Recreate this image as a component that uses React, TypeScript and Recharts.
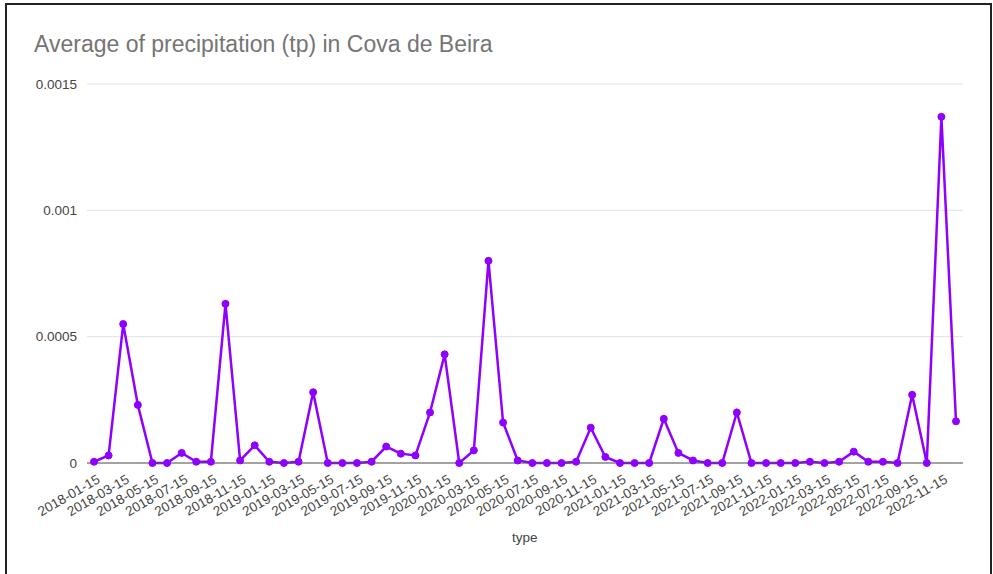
import { LineChart, Line, XAxis, YAxis, CartesianGrid } from "recharts";

const dates = [
  "2018-01-15", "2018-02-15", "2018-03-15", "2018-04-15", "2018-05-15", "2018-06-15",
  "2018-07-15", "2018-08-15", "2018-09-15", "2018-10-15", "2018-11-15", "2018-12-15",
  "2019-01-15", "2019-02-15", "2019-03-15", "2019-04-15", "2019-05-15", "2019-06-15",
  "2019-07-15", "2019-08-15", "2019-09-15", "2019-10-15", "2019-11-15", "2019-12-15",
  "2020-01-15", "2020-02-15", "2020-03-15", "2020-04-15", "2020-05-15", "2020-06-15",
  "2020-07-15", "2020-08-15", "2020-09-15", "2020-10-15", "2020-11-15", "2020-12-15",
  "2021-01-15", "2021-02-15", "2021-03-15", "2021-04-15", "2021-05-15", "2021-06-15",
  "2021-07-15", "2021-08-15", "2021-09-15", "2021-10-15", "2021-11-15", "2021-12-15",
  "2022-01-15", "2022-02-15", "2022-03-15", "2022-04-15", "2022-05-15", "2022-06-15",
  "2022-07-15", "2022-08-15", "2022-09-15", "2022-10-15", "2022-11-15", "2022-12-15",
];

const precipitation = [
  0.000005, 0.00003, 0.00055, 0.00023, 0, 0,
  0.00004, 0.000005, 0.000005, 0.00063, 0.00001, 0.00007,
  0.000005, 0, 0.000005, 0.00028, 0, 0,
  0, 0.000005, 0.000065, 0.000037, 0.00003, 0.0002,
  0.00043, 0, 0.00005, 0.0008, 0.00016, 0.00001,
  0, 0, 0, 0.000005, 0.00014, 0.000024,
  0, 0, 0, 0.000175, 0.00004, 0.00001,
  0, 0, 0.0002, 0, 0, 0,
  0, 0.000005, 0, 0.000005, 0.000045, 0.000005,
  0.000005, 0, 0.00027, 0, 0.00137, 0.000165,
];

const yTicks = [0, 0.0005, 0.001, 0.0015];

const data = dates.map((d, i) => ({ date: d, tp: precipitation[i] }));

const FONT = '"Liberation Sans", Arial, sans-serif';

// rotated date labels, end of text sits just right of the point
function DateTick(props: any) {
  const { x, y, payload } = props;
  return (
    <g transform={`translate(${x + 7},${y + 11})`}>
      <text
        textAnchor="end"
        transform="rotate(-30)"
        fontSize={13.5}
        fill="#444"
        fontFamily={FONT}
      >
        {payload.value}
      </text>
    </g>
  );
}

export default function App() {
  return (
    <div
      style={{
        position: "absolute",
        left: 0,
        top: 0,
        width: 993,
        height: 574,
        background: "#fff",
        overflow: "hidden",
        fontFamily: FONT,
      }}
    >
      <div
        style={{
          position: "absolute",
          left: 5,
          top: 3,
          width: 983,
          height: 600,
          border: "2px solid #222",
        }}
      />
      <div
        style={{
          position: "absolute",
          left: 34,
          top: 31,
          fontSize: 23,
          color: "#757575",
          whiteSpace: "nowrap",
        }}
      >
        Average of precipitation (tp) in Cova de Beira
      </div>
      <div
        style={{
          position: "absolute",
          left: 512,
          top: 530,
          fontSize: 13.5,
          color: "#444",
        }}
      >
        type
      </div>
      <div style={{ position: "absolute", left: 0, top: 0 }}>
        <LineChart
          width={993}
          height={574}
          data={data}
          margin={{ top: 84, right: 30, bottom: 41, left: 27 }}
        >
          <CartesianGrid vertical={false} stroke="#e2e2e2" />
          <XAxis
            dataKey="date"
            interval={1}
            padding={{ left: 7, right: 7 }}
            tickLine={false}
            axisLine={{ stroke: "#555" }}
            tick={<DateTick />}
            height={70}
          />
          <YAxis
            width={60}
            domain={[0, 0.0015]}
            ticks={yTicks}
            tickLine={false}
            axisLine={false}
            tickMargin={4}
            tick={{ fontSize: 13.5, fill: "#444", fontFamily: FONT }}
          />
          <Line
            type="linear"
            dataKey="tp"
            stroke="#8f00ff"
            strokeWidth={2.5}
            dot={{ r: 3.5, fill: "#8f00ff", stroke: "#8f00ff", strokeWidth: 1 }}
            isAnimationActive={false}
          />
        </LineChart>
      </div>
    </div>
  );
}
